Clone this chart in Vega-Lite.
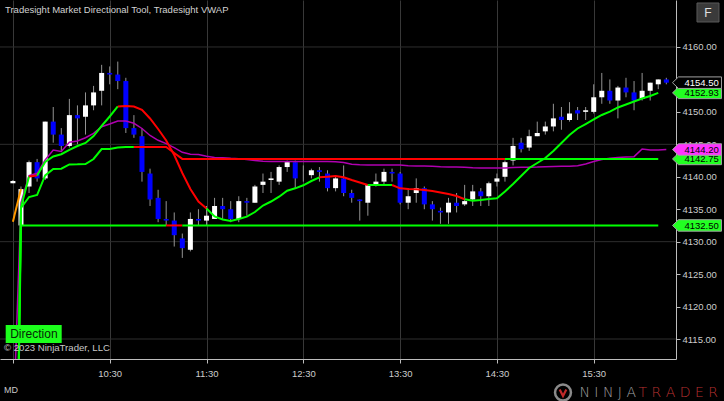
{
  "$schema": "https://vega.github.io/schema/vega-lite/v6.json",
  "width": 676,
  "height": 359,
  "autosize": {"type": "none"},
  "padding": {"left": 0, "top": 0, "right": 48, "bottom": 42},
  "background": "#000000",
  "config": {
    "view": {"stroke": null},
    "scale": {"continuousPadding": 0},
    "axis": {"labelOverlap": false, "labelBound": false, "labelFlush": false, "title": null}
  },
  "datasets": {
    "bars": [
      {"t":570,"o":4139,"h":4139.5,"l":4139,"c":4139.35},
      {"t":575,"o":4132.5,"h":4138.5,"l":4132.5,"c":4138.1},
      {"t":580,"o":4138.5,"h":4142.5,"l":4137.5,"c":4142.25},
      {"t":585,"o":4142.25,"h":4142.75,"l":4139.25,"c":4139.75},
      {"t":590,"o":4139.75,"h":4148.5,"l":4139.5,"c":4148.5},
      {"t":595,"o":4148.5,"h":4150.75,"l":4145.25,"c":4146.5},
      {"t":600,"o":4146.5,"h":4147.5,"l":4144,"c":4144.75},
      {"t":605,"o":4144.75,"h":4152,"l":4144.5,"c":4149.5},
      {"t":610,"o":4149.5,"h":4151,"l":4145,"c":4149},
      {"t":615,"o":4149.25,"h":4153,"l":4146.5,"c":4151},
      {"t":620,"o":4151,"h":4154,"l":4150.25,"c":4153},
      {"t":625,"o":4153.25,"h":4157.25,"l":4151,"c":4156},
      {"t":630,"o":4156,"h":4157,"l":4154.25,"c":4155.75},
      {"t":635,"o":4155.75,"h":4157.75,"l":4153.5,"c":4154.75},
      {"t":640,"o":4154.75,"h":4155.25,"l":4146.75,"c":4147.5},
      {"t":645,"o":4147.5,"h":4149.5,"l":4146,"c":4146.5},
      {"t":650,"o":4146.25,"h":4147.5,"l":4139.25,"c":4140.75},
      {"t":655,"o":4140.5,"h":4141.25,"l":4135.5,"c":4136.5},
      {"t":660,"o":4136.75,"h":4138,"l":4133,"c":4133.5},
      {"t":665,"o":4133.5,"h":4136.25,"l":4132.5,"c":4133.25},
      {"t":670,"o":4133.25,"h":4134.5,"l":4129.25,"c":4131},
      {"t":675,"o":4130.5,"h":4131.25,"l":4127.5,"c":4129},
      {"t":680,"o":4128.75,"h":4134.5,"l":4128.5,"c":4133.5},
      {"t":685,"o":4133.5,"h":4135,"l":4132.5,"c":4133.25},
      {"t":690,"o":4133.25,"h":4135.5,"l":4132.5,"c":4134},
      {"t":695,"o":4133.5,"h":4136.75,"l":4133.5,"c":4135.5},
      {"t":700,"o":4135.5,"h":4136.75,"l":4133.5,"c":4135},
      {"t":705,"o":4135,"h":4136.25,"l":4133,"c":4133.5},
      {"t":710,"o":4133.5,"h":4137,"l":4133,"c":4136.25},
      {"t":715,"o":4136.25,"h":4136.75,"l":4134,"c":4136},
      {"t":720,"o":4136,"h":4138.75,"l":4136,"c":4138.5},
      {"t":725,"o":4138.75,"h":4140.5,"l":4137.5,"c":4139.25},
      {"t":730,"o":4139.5,"h":4140.75,"l":4137.5,"c":4139.75},
      {"t":735,"o":4139.25,"h":4141.75,"l":4138.75,"c":4141.5},
      {"t":740,"o":4141.5,"h":4142.5,"l":4140.75,"c":4142.25},
      {"t":745,"o":4142.25,"h":4142.5,"l":4138.25,"c":4139.75},
      {"t":750,"o":4140.5,"h":4141.75,"l":4139.25,"c":4140.5},
      {"t":755,"o":4140.25,"h":4141.25,"l":4139.75,"c":4141},
      {"t":760,"o":4141,"h":4141.5,"l":4139.25,"c":4140.75},
      {"t":765,"o":4140.5,"h":4141,"l":4137.75,"c":4138.25},
      {"t":770,"o":4138.25,"h":4140.25,"l":4137.75,"c":4139.75},
      {"t":775,"o":4139.75,"h":4141.75,"l":4137,"c":4137.5},
      {"t":780,"o":4137.5,"h":4138,"l":4136,"c":4136.75},
      {"t":785,"o":4136.5,"h":4136.5,"l":4133.25,"c":4136.25},
      {"t":790,"o":4136,"h":4138.75,"l":4134,"c":4138.75},
      {"t":795,"o":4138.75,"h":4140.5,"l":4138.5,"c":4139.25},
      {"t":800,"o":4139.25,"h":4141.25,"l":4138.75,"c":4140.75},
      {"t":805,"o":4140.75,"h":4141.25,"l":4139.25,"c":4140.5},
      {"t":810,"o":4140.5,"h":4140.75,"l":4135.75,"c":4136},
      {"t":815,"o":4136,"h":4138.25,"l":4135,"c":4137},
      {"t":820,"o":4137.5,"h":4139.75,"l":4136,"c":4138.25},
      {"t":825,"o":4138.25,"h":4138.5,"l":4135,"c":4135.75},
      {"t":830,"o":4135.75,"h":4136.25,"l":4133.25,"c":4135},
      {"t":835,"o":4134.75,"h":4135.25,"l":4132.75,"c":4134.5},
      {"t":840,"o":4134.5,"h":4136.75,"l":4132.75,"c":4136},
      {"t":845,"o":4136,"h":4137.5,"l":4134.5,"c":4135.5},
      {"t":850,"o":4135.75,"h":4138.75,"l":4135.5,"c":4136.25},
      {"t":855,"o":4136.5,"h":4138.75,"l":4135.5,"c":4137.75},
      {"t":860,"o":4137.75,"h":4138.25,"l":4135.5,"c":4137},
      {"t":865,"o":4137,"h":4139.25,"l":4135.5,"c":4139},
      {"t":870,"o":4139.25,"h":4140.5,"l":4138.5,"c":4139.75},
      {"t":875,"o":4140,"h":4142.5,"l":4139.25,"c":4142.25},
      {"t":880,"o":4142.5,"h":4146,"l":4141.75,"c":4144.75},
      {"t":885,"o":4145.25,"h":4146,"l":4143.75,"c":4144.25},
      {"t":890,"o":4144.5,"h":4147.25,"l":4144,"c":4146.25},
      {"t":895,"o":4146.25,"h":4148.5,"l":4146.25,"c":4146.75},
      {"t":900,"o":4147,"h":4148.5,"l":4146.5,"c":4147.75},
      {"t":905,"o":4147.75,"h":4151.25,"l":4147,"c":4149},
      {"t":910,"o":4149.25,"h":4150.75,"l":4147.25,"c":4148.75},
      {"t":915,"o":4148.75,"h":4151.5,"l":4148.5,"c":4149.75},
      {"t":920,"o":4150.25,"h":4150.75,"l":4148.75,"c":4149.75},
      {"t":925,"o":4150,"h":4150.75,"l":4148.75,"c":4150.25},
      {"t":930,"o":4150,"h":4154.25,"l":4149.75,"c":4152.25},
      {"t":935,"o":4152.25,"h":4156,"l":4151.25,"c":4153.25},
      {"t":940,"o":4153.25,"h":4155,"l":4151.25,"c":4151.75},
      {"t":945,"o":4151.75,"h":4154,"l":4149,"c":4153.75},
      {"t":950,"o":4153.75,"h":4155.25,"l":4152.25,"c":4153},
      {"t":955,"o":4153,"h":4154.75,"l":4150.25,"c":4151.75},
      {"t":960,"o":4152,"h":4156,"l":4151.75,"c":4153.25},
      {"t":965,"o":4153.25,"h":4154.5,"l":4151.75,"c":4154.5},
      {"t":970,"o":4154.25,"h":4155,"l":4153.5,"c":4155},
      {"t":975,"o":4155,"h":4155.25,"l":4154.25,"c":4154.5}
    ],
    "vwap": [
      {"t":570,"v":4100},{"t":575,"v":4135.96},{"t":580,"v":4140.17},{"t":585,"v":4140.54},{"t":590,"v":4142.59},
      {"t":595,"v":4144.13},{"t":600,"v":4143.9},{"t":605,"v":4145.31},{"t":610,"v":4145.51},{"t":615,"v":4146.02},
      {"t":620,"v":4146.7},{"t":625,"v":4147.72},{"t":630,"v":4148.13},{"t":635,"v":4148.6},{"t":640,"v":4148.6},
      {"t":645,"v":4148.24},{"t":650,"v":4147.44},{"t":655,"v":4146.36},{"t":660,"v":4145.62},{"t":665,"v":4145.1},
      {"t":670,"v":4144.48},{"t":675,"v":4143.77},{"t":680,"v":4143.46},{"t":685,"v":4143.43},{"t":690,"v":4143.16},
      {"t":695,"v":4142.97},{"t":700,"v":4142.94},{"t":705,"v":4142.85},{"t":710,"v":4142.79},{"t":715,"v":4142.66},
      {"t":720,"v":4142.51},{"t":725,"v":4142.38},{"t":730,"v":4142.36},{"t":735,"v":4142.36},{"t":740,"v":4142.36},
      {"t":745,"v":4142.35},{"t":750,"v":4142.36},{"t":755,"v":4142.36},{"t":760,"v":4142.35},{"t":765,"v":4142.34},
      {"t":770,"v":4142.33},{"t":775,"v":4142.2},{"t":780,"v":4141.92},{"t":785,"v":4141.86},{"t":790,"v":4141.83},
      {"t":795,"v":4141.82},{"t":800,"v":4141.82},{"t":805,"v":4141.82},{"t":810,"v":4141.8},{"t":815,"v":4141.7},
      {"t":820,"v":4141.66},{"t":825,"v":4141.65},{"t":830,"v":4141.62},{"t":835,"v":4141.55},{"t":840,"v":4141.51},
      {"t":845,"v":4141.5},{"t":850,"v":4141.45},{"t":855,"v":4141.38},{"t":860,"v":4141.35},{"t":865,"v":4141.35},
      {"t":870,"v":4141.35},{"t":875,"v":4141.36},{"t":880,"v":4141.42},{"t":885,"v":4141.46},{"t":890,"v":4141.48},
      {"t":895,"v":4141.5},{"t":900,"v":4141.56},{"t":905,"v":4141.6},{"t":910,"v":4141.61},{"t":915,"v":4141.62},
      {"t":920,"v":4141.7},{"t":925,"v":4141.97},{"t":930,"v":4142.36},{"t":935,"v":4142.66},{"t":940,"v":4142.85},
      {"t":945,"v":4142.97},{"t":950,"v":4143.05},{"t":955,"v":4143.1},{"t":960,"v":4144.28},{"t":965,"v":4144.13},
      {"t":970,"v":4144.13},{"t":975,"v":4144.2}
    ],
    "ind": [
      {"k":"B1","s":"up","t":570,"v":4050},{"k":"B1","s":"up","t":575,"v":4135.3},{"k":"B1","s":"up","t":580,"v":4140.04},
      {"k":"B2","s":"down","t":580,"v":4140.04},{"k":"B2","s":"down","t":585,"v":4140.2},
      {"k":"B3","s":"up","t":585,"v":4140.2},{"k":"B3","s":"up","t":590,"v":4142.28},{"k":"B3","s":"up","t":595,"v":4143.13},
      {"k":"B3","s":"up","t":600,"v":4143.47},{"k":"B3","s":"up","t":605,"v":4144.13},{"k":"B3","s":"up","t":610,"v":4144.74},
      {"k":"B3","s":"up","t":615,"v":4145.21},{"k":"B3","s":"up","t":620,"v":4146.28},{"k":"B3","s":"up","t":625,"v":4147.83},
      {"k":"B3","s":"up","t":630,"v":4149.29},{"k":"B3","s":"up","t":635,"v":4150.83},
      {"k":"B4","s":"down","t":635,"v":4150.83},{"k":"B4","s":"down","t":640,"v":4150.91},{"k":"B4","s":"down","t":645,"v":4150.83},
      {"k":"B4","s":"down","t":650,"v":4150.3},{"k":"B4","s":"down","t":655,"v":4148.98},{"k":"B4","s":"down","t":660,"v":4147.36},
      {"k":"B4","s":"down","t":665,"v":4145.59},{"k":"B4","s":"down","t":670,"v":4143.36},{"k":"B4","s":"down","t":675,"v":4140.58},
      {"k":"B4","s":"down","t":680,"v":4138.12},{"k":"B4","s":"down","t":685,"v":4136.19},{"k":"B4","s":"down","t":690,"v":4135.11},
      {"k":"B5","s":"up","t":690,"v":4135.11},{"k":"B5","s":"up","t":695,"v":4133.88},{"k":"B5","s":"up","t":700,"v":4133.42},
      {"k":"B5","s":"up","t":705,"v":4133.19},{"k":"B5","s":"up","t":710,"v":4133.49},{"k":"B5","s":"up","t":715,"v":4133.85},
      {"k":"B5","s":"up","t":720,"v":4134.57},{"k":"B5","s":"up","t":725,"v":4135.57},{"k":"B5","s":"up","t":730,"v":4136.19},
      {"k":"B5","s":"up","t":735,"v":4136.93},{"k":"B5","s":"up","t":740,"v":4137.85},{"k":"B5","s":"up","t":745,"v":4138.22},
      {"k":"B5","s":"up","t":750,"v":4138.69},{"k":"B5","s":"up","t":755,"v":4139.35},{"k":"B5","s":"up","t":760,"v":4139.92},
      {"k":"B6","s":"down","t":760,"v":4139.92},{"k":"B6","s":"down","t":765,"v":4140.01},{"k":"B6","s":"down","t":770,"v":4140.12},
      {"k":"B6","s":"down","t":775,"v":4139.92},{"k":"B6","s":"down","t":780,"v":4139.5},{"k":"B6","s":"down","t":785,"v":4139.12},
      {"k":"B6","s":"down","t":790,"v":4138.73},
      {"k":"B7","s":"up","t":790,"v":4138.73},{"k":"B7","s":"up","t":795,"v":4138.73},{"k":"B7","s":"up","t":800,"v":4138.73},
      {"k":"B7","s":"up","t":805,"v":4138.73},
      {"k":"B8","s":"down","t":805,"v":4138.73},{"k":"B8","s":"down","t":810,"v":4138.22},{"k":"B8","s":"down","t":815,"v":4138.12},
      {"k":"B8","s":"down","t":820,"v":4138.07},{"k":"B8","s":"down","t":825,"v":4137.96},{"k":"B8","s":"down","t":830,"v":4137.81},
      {"k":"B8","s":"down","t":835,"v":4137.58},{"k":"B8","s":"down","t":840,"v":4137.35},{"k":"B8","s":"down","t":845,"v":4137.04},
      {"k":"B8","s":"down","t":850,"v":4136.53},
      {"k":"B9","s":"up","t":850,"v":4136.53},{"k":"B9","s":"up","t":855,"v":4136.31},{"k":"B9","s":"up","t":860,"v":4136.42},
      {"k":"B9","s":"up","t":865,"v":4136.58},{"k":"B9","s":"up","t":870,"v":4136.68},{"k":"B9","s":"up","t":875,"v":4137.73},
      {"k":"B9","s":"up","t":880,"v":4138.89},{"k":"B9","s":"up","t":885,"v":4140.12},{"k":"B9","s":"up","t":890,"v":4141.35},
      {"k":"B9","s":"up","t":895,"v":4142.12},{"k":"B9","s":"up","t":900,"v":4142.89},{"k":"B9","s":"up","t":905,"v":4143.97},
      {"k":"B9","s":"up","t":910,"v":4145.21},{"k":"B9","s":"up","t":915,"v":4146.44},{"k":"B9","s":"up","t":920,"v":4147.44},
      {"k":"B9","s":"up","t":925,"v":4148.13},{"k":"B9","s":"up","t":930,"v":4148.85},{"k":"B9","s":"up","t":935,"v":4149.52},
      {"k":"B9","s":"up","t":940,"v":4150.03},{"k":"B9","s":"up","t":945,"v":4150.68},{"k":"B9","s":"up","t":950,"v":4151.14},
      {"k":"B9","s":"up","t":955,"v":4151.6},{"k":"B9","s":"up","t":960,"v":4152.06},{"k":"B9","s":"up","t":965,"v":4152.45},
      {"k":"B9","s":"up","t":970,"v":4152.93},
      {"k":"A1","s":"up","t":570,"v":4050},{"k":"A1","s":"up","t":575,"v":4135.19},{"k":"A1","s":"up","t":580,"v":4136.88},
      {"k":"A1","s":"up","t":585,"v":4137.19},{"k":"A1","s":"up","t":590,"v":4140.2},{"k":"A1","s":"up","t":595,"v":4141.2},
      {"k":"A1","s":"up","t":600,"v":4141.25},{"k":"A1","s":"up","t":605,"v":4141.9},{"k":"A1","s":"up","t":610,"v":4141.92},
      {"k":"A1","s":"up","t":615,"v":4141.97},{"k":"A1","s":"up","t":620,"v":4142.74},{"k":"A1","s":"up","t":625,"v":4144.28},
      {"k":"A1","s":"up","t":630,"v":4144.28},{"k":"A1","s":"up","t":635,"v":4144.51},{"k":"A1","s":"up","t":640,"v":4144.59},
      {"k":"A1","s":"up","t":645,"v":4144.59},
      {"k":"A2","s":"down","t":645,"v":4144.59},{"k":"A2","s":"down","t":665,"v":4144.59},{"k":"A2","s":"down","t":670,"v":4143.67},
      {"k":"A2","s":"down","t":675,"v":4142.75},{"k":"A2","s":"down","t":875,"v":4142.75},
      {"k":"A3","s":"up","t":875,"v":4142.75},{"k":"A3","s":"up","t":970,"v":4142.75},
      {"k":"H1","s":"up","t":570,"v":4050},{"k":"H1","s":"up","t":575,"v":4132.5},{"k":"H1","s":"up","t":665,"v":4132.5},
      {"k":"H2","s":"down","t":665,"v":4132.5},{"k":"H2","s":"down","t":675,"v":4132.5},
      {"k":"H3","s":"up","t":675,"v":4132.5},{"k":"H3","s":"up","t":970,"v":4132.5},
      {"k":"O1","s":"neutral","t":570,"v":4133.08},{"k":"O1","s":"neutral","t":575,"v":4138.12}
    ],
    "tags": [
      {"p":4132.5,"lab":"4132.50","kind":"level"},
      {"p":4142.75,"lab":"4142.75","kind":"slow"},
      {"p":4144.2,"lab":"4144.20","kind":"vwap"},
      {"p":4152.93,"lab":"4152.93","kind":"fast"},
      {"p":4154.5,"lab":"4154.50","kind":"last"}
    ],
    "grid": [{"g":4115},{"g":4130},{"g":4145},{"g":4160}]
  },
  "layer": [
    {
      "data": {"name": "grid"},
      "mark": {"type": "rule", "color": "#2e2e2e", "strokeWidth": 1},
      "encoding": {
        "y": {"field": "g", "type": "quantitative"}
      }
    },
    {
      "data": {"name": "bars"},
      "mark": {"type": "rule", "color": "#939393", "strokeWidth": 1},
      "encoding": {
        "x": {
          "field": "t", "type": "quantitative",
          "scale": {"domain": [562, 981], "zero": false, "nice": false, "padding": 0},
          "axis": {
            "orient": "bottom", "title": null,
            "values": [570, 630, 690, 750, 810, 870, 930],
            "tickCount": 30,
            "labelExpr": "datum.value == 570 ? '' : floor(datum.value/60) + ':' + (datum.value % 60 < 10 ? '0' : '') + (datum.value % 60)",
            "grid": true, "gridColor": "#383838", "gridWidth": 1,
            "labelOverlap": false,
            "domainColor": "#bdbdbd", "tickColor": "#bdbdbd", "tickSize": 4,
            "labelColor": "#cccccc", "labelFont": "Liberation Sans", "labelFontSize": 9.5,
            "labelPadding": 5
          }
        },
        "y": {
          "field": "l", "type": "quantitative",
          "scale": {"domain": [4111.92, 4167.24], "zero": false, "nice": false},
          "axis": {
            "orient": "right", "title": null,
            "values": [4115, 4120, 4125, 4130, 4135, 4140, 4145, 4150, 4155, 4160],
            "tickCount": 30,
            "format": ".2f", "grid": false,
            "labelOverlap": false,
            "domainColor": "#bdbdbd", "tickColor": "#bdbdbd", "tickSize": 4,
            "labelColor": "#cccccc", "labelFont": "Liberation Sans", "labelFontSize": 9.5,
            "labelPadding": 2
          }
        },
        "y2": {"field": "h"}
      }
    },
    {
      "data": {"name": "bars"},
      "mark": {"type": "bar", "width": 5},
      "encoding": {
        "x": {"field": "t", "type": "quantitative"},
        "y": {"field": "o", "type": "quantitative"},
        "y2": {"field": "c"},
        "color": {"condition": {"test": "datum.c >= datum.o", "value": "#ffffff"}, "value": "#0000ff"}
      }
    },
    {
      "data": {"name": "vwap"},
      "mark": {"type": "line", "color": "#b000b0", "strokeWidth": 1.5, "clip": true},
      "encoding": {
        "x": {"field": "t", "type": "quantitative"},
        "y": {"field": "v", "type": "quantitative"}
      }
    },
    {
      "data": {"name": "ind"},
      "mark": {"type": "line", "strokeWidth": 2, "clip": true},
      "encoding": {
        "x": {"field": "t", "type": "quantitative"},
        "y": {"field": "v", "type": "quantitative"},
        "detail": {"field": "k", "type": "nominal"},
        "color": {
          "field": "s", "type": "nominal", "legend": null,
          "scale": {"domain": ["up", "down", "neutral"], "range": ["#00ff00", "#ff0000", "#ff9900"]}
        }
      }
    },
    {
      "data": {"name": "tags"},
      "mark": {
        "type": "point",
        "shape": "M-1,0L-0.755,-0.235L1,-0.235L1,0.235L-0.755,0.235Z",
        "size": 2401, "filled": true, "opacity": 1,
        "stroke": "#a0a0a0", "strokeWidth": 1
      },
      "encoding": {
        "x": {"datum": 994},
        "y": {"field": "p", "type": "quantitative"},
        "fill": {
          "field": "kind", "type": "nominal", "legend": null,
          "scale": {"domain": ["level", "slow", "vwap", "fast", "last"], "range": ["#22ff22", "#22ff22", "#ff33ff", "#22ff22", "#000000"]}
        }
      }
    },
    {
      "data": {"name": "tags"},
      "mark": {"type": "text", "align": "left", "baseline": "middle", "dx": -12.5, "dy": 0.5, "font": "Liberation Sans", "fontSize": 9.5},
      "encoding": {
        "x": {"datum": 994},
        "y": {"field": "p", "type": "quantitative"},
        "text": {"field": "lab"},
        "color": {"condition": {"test": "datum.kind === 'last'", "value": "#ffffff"}, "value": "#000000"}
      }
    },
    {
      "data": {"values": [{"label": "Tradesight Market Directional Tool, Tradesight VWAP"}]},
      "mark": {"type": "text", "align": "left", "baseline": "middle", "dx": 5, "dy": 9.5, "font": "Liberation Sans", "fontSize": 9.5, "color": "#d2d2d2"},
      "encoding": {
        "x": {"datum": 562},
        "y": {"datum": 4167.24},
        "text": {"field": "label"}
      }
    },
    {
      "data": {"values": [{"label": "© 2023 NinjaTrader, LLC"}]},
      "mark": {"type": "text", "align": "left", "baseline": "middle", "dx": 4, "dy": -11.5, "font": "Liberation Sans", "fontSize": 9.6, "color": "#c8c8c8"},
      "encoding": {
        "x": {"datum": 562},
        "y": {"datum": 4111.92},
        "text": {"field": "label"}
      }
    },
    {
      "data": {"values": [{"label": "Direction"}]},
      "mark": {"type": "rect", "color": "#1cff1c"},
      "encoding": {
        "x": {"datum": 565.53},
        "x2": {"datum": 600.24},
        "y": {"datum": 4117.16},
        "y2": {"datum": 4114.39}
      }
    },
    {
      "data": {"values": [{"label": "Direction"}]},
      "mark": {"type": "text", "align": "center", "baseline": "middle", "dy": 0.5, "font": "Liberation Sans", "fontSize": 12, "color": "#062806"},
      "encoding": {
        "x": {"datum": 583},
        "y": {"datum": 4115.8},
        "text": {"field": "label"}
      }
    },
    {
      "data": {"values": [{"label": "MD"}]},
      "mark": {"type": "text", "align": "left", "baseline": "middle", "dx": 4, "dy": 31, "font": "Liberation Sans", "fontSize": 9, "color": "#c8c8c8"},
      "encoding": {
        "x": {"datum": 562},
        "y": {"datum": 4111.92},
        "text": {"field": "label"}
      }
    },
    {
      "data": {"values": [{"label": "F"}]},
      "mark": {"type": "rect", "color": "#3a3a3a", "stroke": "#5a5a5a", "strokeWidth": 1},
      "encoding": {
        "x": {"datum": 994.01},
        "x2": {"datum": 1007.65},
        "y": {"datum": 4166.78},
        "y2": {"datum": 4163.85}
      }
    },
    {
      "data": {"values": [{"label": "F"}]},
      "mark": {"type": "text", "align": "center", "baseline": "middle", "font": "Liberation Sans", "fontSize": 12, "color": "#e0e0e0"},
      "encoding": {
        "x": {"datum": 1000.83},
        "y": {"datum": 4165.3},
        "text": {"field": "label"}
      }
    },
    {
      "data": {"values": [{"label": "logo"}]},
      "mark": {"type": "point", "shape": "circle", "size": 254, "filled": false, "stroke": "#8a8a8a", "strokeWidth": 2.5, "opacity": 1},
      "encoding": {
        "x": {"datum": 910.96},
        "y": {"datum": 4106.76}
      }
    },
    {
      "data": {"values": [{"label": "logo mark"}]},
      "mark": {"type": "point", "shape": "M-0.55,-0.5L0,0.6L0.55,-0.5", "size": 144, "filled": false, "stroke": "#c02828", "strokeWidth": 2.2, "opacity": 1},
      "encoding": {
        "x": {"datum": 910.96},
        "y": {"datum": 4106.76}
      }
    },
    {
      "data": {"values": [{"label": "N I N J A"}]},
      "mark": {"type": "text", "align": "right", "baseline": "middle", "dx": -1, "font": "DejaVu Sans", "fontWeight": 200, "fontSize": 14, "color": "#a0a0a0"},
      "encoding": {
        "x": {"datum": 956.83},
        "y": {"datum": 4106.68},
        "text": {"field": "label"}
      }
    },
    {
      "data": {"values": [{"label": "T R A D E R"}]},
      "mark": {"type": "text", "align": "left", "baseline": "middle", "dx": 1.5, "font": "DejaVu Sans", "fontWeight": 200, "fontSize": 14, "color": "#b83030"},
      "encoding": {
        "x": {"datum": 956.83},
        "y": {"datum": 4106.68},
        "text": {"field": "label"}
      }
    }
  ]
}
